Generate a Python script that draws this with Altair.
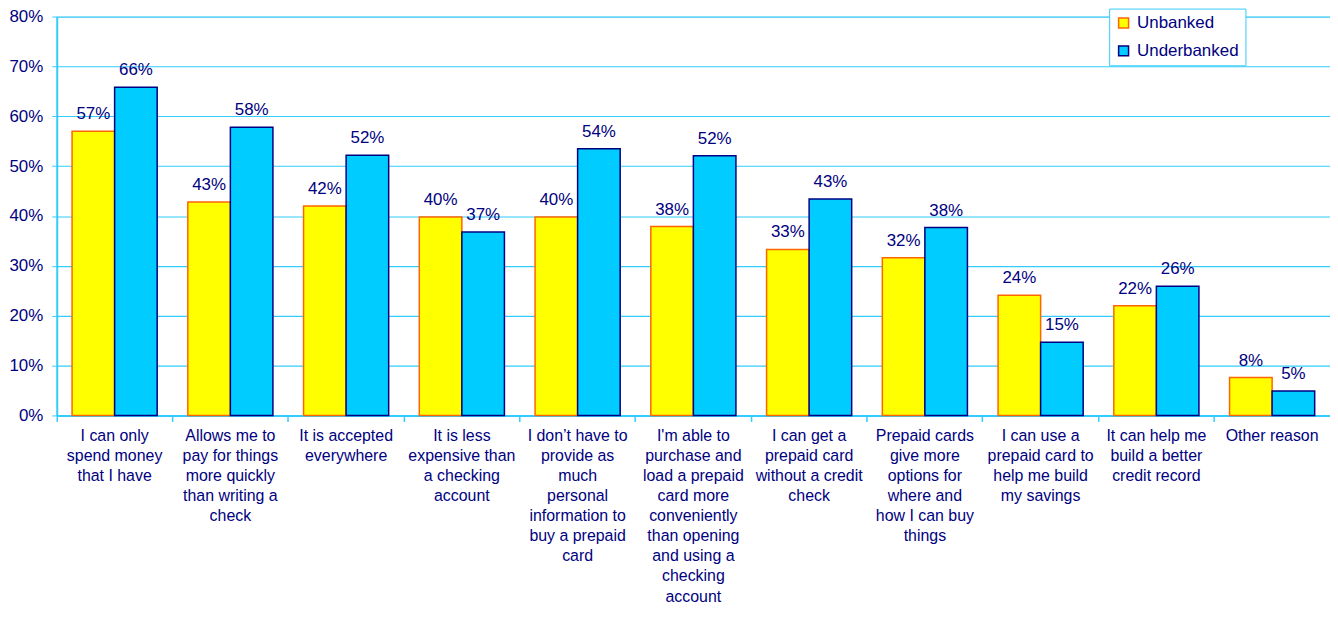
import altair as alt
import pandas as pd

categories = [
    "I can only|spend money|that I have",
    "Allows me to|pay for things|more quickly|than writing a|check",
    "It is accepted|everywhere",
    "It is less|expensive than|a checking|account",
    "I don\u2019t have to|provide as|much|personal|information to|buy a prepaid|card",
    "I'm able to|purchase and|load a prepaid|card more|conveniently|than opening|and using a|checking|account",
    "I can get a|prepaid card|without a credit|check",
    "Prepaid cards|give more|options for|where and|how I can buy|things",
    "I can use a|prepaid card to|help me build|my savings",
    "It can help me|build a better|credit record",
    "Other reason",
]
series = ["Unbanked", "Underbanked"]
unbanked = [57.0, 42.8, 42.0, 39.8, 39.8, 37.9, 33.3, 31.6, 24.1, 22.0, 7.6]
underbanked = [65.8, 57.8, 52.2, 36.8, 53.5, 52.1, 43.4, 37.7, 14.7, 25.9, 4.9]
y_ticks = [0, 10, 20, 30, 40, 50, 60, 70, 80]

rows = []
for i, c in enumerate(categories):
    rows.append({"category": c, "series": series[0], "pct": unbanked[i] / 100})
    rows.append({"category": c, "series": series[1], "pct": underbanked[i] / 100})
df = pd.DataFrame(rows)

NAVY = "#000080"
GRID = "#33CCFF"
FONT = "Liberation Sans"

x = alt.X(
    "category:N",
    sort=categories,
    title=None,
    scale=alt.Scale(paddingInner=0, paddingOuter=0),
    axis=alt.Axis(
        bandPosition=0,
        labelAngle=0,
        labelAlign="center",
        labelBaseline="top",
        labelExpr="split(datum.label, '|')",
        labelLineHeight=20.2,
        labelFontSize=16,
        labelFont=FONT,
        labelColor=NAVY,
        labelLimit=0,
        labelPadding=6,
        tickSize=6,
        tickWidth=1.5,
        tickColor=GRID,
        domainColor=GRID,
        domainWidth=2,
        grid=False,
    ),
)
xo = alt.XOffset(
    "series:N",
    sort=series,
    scale=alt.Scale(paddingOuter=0.36, paddingInner=0),
)
y = alt.Y(
    "pct:Q",
    title=None,
    scale=alt.Scale(domain=[0, 0.8], nice=False),
    axis=alt.Axis(
        values=[v / 100 for v in y_ticks],
        format=".0%",
        labelFontSize=17,
        labelFont=FONT,
        labelColor=NAVY,
        labelPadding=9,
        tickSize=5,
        tickColor=GRID,
        domainColor=GRID,
        domainWidth=2,
        gridColor=GRID,
        gridWidth=1.2,
    ),
)

bars = alt.Chart(df).mark_bar(strokeWidth=1.5, opacity=1).encode(
    x=x,
    xOffset=xo,
    y=y,
    fill=alt.Fill(
        "series:N",
        sort=series,
        scale=alt.Scale(domain=series, range=["#FFFF00", "#00CCFF"]),
        legend=alt.Legend(
            title=None,
            orient="none",
            legendX=1058,
            legendY=-8,
            padding=6,
            strokeColor=GRID,
            fillColor="white",
            symbolType="square",
            symbolSize=100,
            symbolStrokeWidth=1.5,
            labelFontSize=17,
            labelFont=FONT,
            labelColor=NAVY,
            labelOffset=5,
            rowPadding=10,
        ),
    ),
    stroke=alt.Stroke(
        "series:N",
        sort=series,
        scale=alt.Scale(domain=series, range=["#FF6600", "#000080"]),
        legend=None,
    ),
)

labels = alt.Chart(df).mark_text(
    baseline="alphabetic", dy=-12, fontSize=17, font=FONT, color=NAVY
).encode(
    x=alt.X("category:N", sort=categories),
    xOffset=alt.XOffset("series:N", sort=series),
    y=alt.Y("pct:Q"),
    text=alt.Text("pct:Q", format=".0%"),
)

chart = (
    alt.layer(bars, labels)
    .properties(
        width=1280,
        height=401,
        autosize=alt.AutoSizeParams(type="none"),
        padding={"left": 49, "top": 7, "right": 0, "bottom": 192},
    )
    .configure_view(stroke=GRID, strokeWidth=1.5)
    .configure(background="white")
)

chart.save("out.html", embed_options={"renderer": "svg", "actions": False})
